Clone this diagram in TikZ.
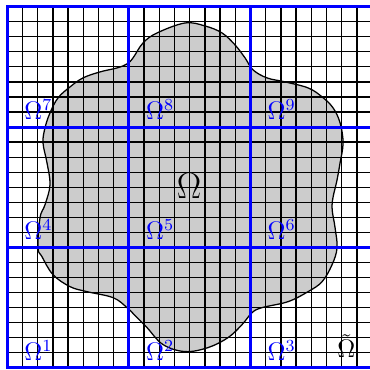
\documentclass[tikz,border=0pt]{standalone}
\usepackage{amsmath,amssymb}
\usepackage{xcolor}
\usepackage{tikz}
\usetikzlibrary{positioning}

\begin{document}
\begin{tikzpicture}[
  x=0.2525cm, y=0.25cm,
  fine/.style={line width=0.6pt, black},
  blob/.style={line width=0.6pt, black, fill=black, fill opacity=0.2},
  sub/.style={line width=1.4pt, blue},
  sublbl/.style={anchor=base west, inner sep=0pt, text=blue, font=\large},
]
\useasboundingbox (-0.48,-0.11) rectangle (23.86,24.44);

% fine grid
\draw[fine, step=1] (0,0) grid (25,24);

% the domain, traced in pixel units
\begin{scope}[shift={(-0.48,24.44)}, xscale=0.06579, yscale=-0.06636]
\draw[blob] plot[smooth cycle, tension=0.6] coordinates {
  (185,23) (205,26) (222,33) (235,45) (245,58) (253,70) (267,78)
  (285,82) (308,88) (322,97) (333,108) (340,123) (343,143) (340,163)
  (337,180) (332,205) (335,228) (337,248) (332,265) (322,282) (308,292)
  (288,302) (262,308) (252,313) (242,325) (228,338) (208,348) (185,352)
  (163,345) (147,328) (137,318) (127,308) (113,298) (87,292) (70,287)
  (53,275) (42,257) (38,248) (40,218) (45,205) (50,185) (47,163)
  (43,143) (45,128) (50,113) (58,98) (70,87) (83,78) (100,72)
  (117,68) (127,64) (133,58) (143,43) (157,33)};
\end{scope}

% subdomains
\draw[sub] (0,0) rectangle (24,24);
\foreach \k in {8,16} {
  \draw[sub] (\k,0) -- (\k,24);
  \draw[sub] (0,\k) -- (24,\k);
}

\foreach \i/\x/\y in {1/0/0, 2/8/0, 3/16/0, 4/0/8, 5/8/8, 6/16/8,
                      7/0/16, 8/8/16, 9/16/16}
  \node[sublbl] (om\i) at (\x+1.1,\y+0.5) {$\Omega^{\i}$};

\node[font=\fontsize{16}{19}\selectfont] (om) at (11.95,12.1) {$\Omega$};
\node[anchor=base west, inner sep=0pt, font=\large] (omt) at (21.69,0.68) {$\tilde{\Omega}$};
\end{tikzpicture}
\end{document}
